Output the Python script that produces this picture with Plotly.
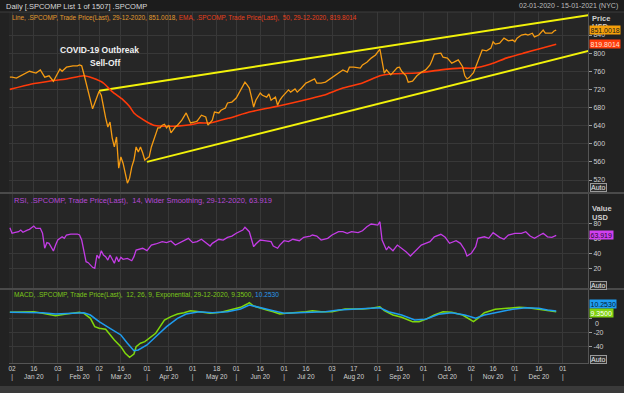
import pandas as pd
import plotly.graph_objects as go
from plotly.subplots import make_subplots

# ---------------- data ----------------
HOLIDAYS = ["2020-01-01", "2020-01-20", "2020-02-17", "2020-04-10", "2020-05-25",
            "2020-07-03", "2020-09-07", "2020-11-26", "2020-12-25"]

# trading session number: 0 = 02-01-2020, -1 = 31-12-2019
price_session = [-1, 0, 2, 5, 8, 11, 13, 15, 17, 19, 21, 22, 23, 25, 28, 30, 31, 32, 33, 34,
                 35, 36, 37, 38, 39, 40, 41, 42, 43, 44, 45, 46, 47, 48, 49, 50, 51, 52, 53, 54,
                 55, 56, 57, 58, 59, 60, 61, 62, 63, 64, 65, 66, 67, 68, 69, 70, 71, 72, 73, 75,
                 76, 78, 79, 80, 81, 82, 84, 85, 87, 89, 90, 92, 93, 95, 96, 98, 99, 101, 103, 105,
                 106, 107, 108, 109, 110, 111, 112, 114, 115, 117, 118, 119, 121, 122, 123, 124, 127, 128, 130, 131,
                 133, 135, 136, 138, 139, 140, 142, 144, 146, 147, 150, 152, 154, 155, 157, 160, 161, 163, 165, 167,
                 169, 170, 171, 172, 174, 177, 178, 179, 181, 182, 184, 186, 188, 190, 192, 193, 194, 197, 198, 200,
                 202, 203, 205, 207, 208, 209, 210, 212, 214, 215, 216, 218, 220, 221, 222, 224, 226, 228, 230, 231,
                 232, 234, 236, 237, 239, 240, 242, 244, 245, 246, 248, 249, 250]
price_value = [747, 747, 745, 752, 760, 756, 763, 747, 750, 738, 756, 765, 760, 769, 772, 772, 774, 772, 754, 734,
               714, 692, 677, 690, 703, 716, 707, 679, 657, 637, 648, 613, 593, 615, 546, 571, 557, 535, 513, 524,
               549, 564, 593, 582, 593, 580, 564, 568, 571, 593, 608, 624, 635, 635, 641, 643, 635, 641, 624, 637,
               641, 652, 659, 668, 657, 646, 648, 650, 663, 659, 641, 652, 670, 668, 674, 679, 690, 692, 701, 719,
               730, 736, 730, 723, 703, 681, 696, 712, 707, 703, 710, 696, 703, 685, 696, 703, 719, 714, 721, 714,
               723, 734, 736, 741, 743, 734, 734, 736, 743, 747, 758, 763, 758, 769, 769, 767, 774, 780, 789, 796,
               809, 778, 756, 763, 752, 768, 769, 760, 750, 736, 738, 750, 758, 763, 774, 785, 798, 800, 791, 789,
               778, 780, 785, 770, 750, 743, 746, 757, 782, 798, 807, 805, 811, 825, 820, 822, 833, 827, 829, 825,
               833, 840, 842, 840, 844, 836, 840, 851, 844, 844, 844, 849, 851.0018]

ema_session = [-1, 9, 17, 25, 33, 37, 42, 46, 51, 54, 56, 59, 62, 65, 69, 76, 82, 86, 91, 100,
               109, 118, 124, 134, 143, 152, 161, 169, 174, 186, 197, 206, 212, 220, 227, 235, 242, 250]
ema_value = [720, 732, 738, 743, 750, 745, 734, 715, 697, 682, 668, 657, 648, 641, 639, 639, 642, 646, 646, 657,
             670, 679, 685, 696, 707, 723, 734, 750, 754, 756, 763, 767, 767, 776, 789, 800, 809, 819.8014]

rsi_session = [-1, 0, 1, 3, 4, 5, 7, 8, 10, 11, 13, 14, 15, 16, 17, 19, 20, 21, 23, 24,
               25, 27, 30, 31, 32, 33, 34, 35, 37, 38, 39, 40, 41, 42, 43, 44, 45, 47, 48, 49,
               50, 51, 53, 55, 56, 57, 60, 62, 64, 66, 69, 71, 73, 75, 77, 79, 81, 83, 85, 87,
               89, 91, 92, 95, 97, 99, 101, 103, 106, 107, 109, 111, 112, 114, 116, 119, 120, 122, 123, 125,
               127, 129, 132, 134, 137, 138, 140, 142, 145, 147, 150, 152, 154, 156, 159, 161, 163, 165, 168, 169,
               170, 172, 173, 175, 177, 179, 181, 183, 185, 188, 190, 192, 194, 197, 199, 201, 204, 206, 208, 209,
               211, 213, 214, 217, 219, 221, 224, 226, 228, 231, 234, 236, 238, 240, 244, 246, 248, 250]
rsi_value = [74.1, 66.7, 67.5, 68.8, 71, 68, 71, 72, 76.4, 73.3, 73.3, 66.7, 46.7, 54.2, 53.3, 43, 51, 57.7, 62, 60,
             64.4, 65.7, 65.7, 64.4, 57.7, 42, 28.8, 27.5, 21.3, 20, 37.7, 33.3, 43.5, 37.7, 35.5, 31, 37.7, 26.7, 35.5, 28.8,
             34.7, 32, 33.3, 30.1, 35.5, 44.4, 46.7, 43.5, 51, 52.4, 55.5, 54.2, 56.4, 51, 54.2, 56.8, 60, 54.2, 55.5, 58.7,
             54.2, 49.7, 53.3, 58.7, 57.7, 61.3, 63, 66.7, 71, 74.7, 68.8, 48.8, 52.4, 57.7, 56.8, 55.5, 49.7, 46.7, 51, 56.8,
             55.5, 58.7, 56.8, 61.3, 63, 64.4, 63, 57.7, 60, 64.4, 68.8, 68.8, 66.7, 68.8, 67.5, 70.1, 75.5, 79, 77.7, 82.1,
             57.7, 44.4, 48.8, 43.5, 51, 46.7, 42.1, 36.4, 42.1, 51, 53.3, 55.5, 62, 65.3, 61.3, 53.3, 56.8, 53.3, 44.4, 36.4,
             40, 48.8, 60, 62, 60, 67.5, 61.3, 58.7, 64.4, 66.7, 66.7, 68.8, 63, 60, 66.7, 62, 61.3, 63.919]

macd_session = [-1, 4, 10, 14, 20, 25, 31, 33, 36, 38, 40, 43, 45, 47, 50, 52, 54, 56, 57, 59,
                61, 63, 66, 68, 70, 73, 76, 79, 82, 86, 91, 96, 100, 105, 108, 109, 111, 114, 117, 120,
                123, 126, 131, 135, 138, 142, 147, 153, 161, 165, 169, 171, 175, 179, 184, 187, 190, 194, 198, 202,
                207, 210, 212, 214, 217, 222, 228, 233, 237, 242, 246, 250]
macd_value = [8.5, 8.5, 9.3, 7, 3.7, 6, 8.5, 7, 0, -11.8, -14, -15.5, -23.5, -30.6, -40, -49.3, -55, -50.3, -40, -35.2,
              -32.9, -28.2, -21.1, -11.8, -2.4, 2.3, 6, 7.9, 10.7, 9.3, 7, 8.5, 11.7, 15.5, 20.1, 22, 17.3, 14.1, 11.7, 9.3,
              6, 7, 7.9, 9.3, 10.7, 9.3, 9.3, 13.1, 13.1, 14.1, 16.3, 10.7, 4.6, 1.4, -4.8, -4.8, -1.4, 4.6, 9.3, 8.5,
              4.6, -1.4, -4.8, 0, 7.9, 12.7, 14.1, 15.5, 14.9, 12.7, 10.7, 9.35]

signal_session = [-1, 8, 14, 20, 27, 33, 36, 40, 45, 50, 53, 56, 58, 62, 66, 71, 76, 80, 86, 92,
                  99, 105, 109, 114, 120, 125, 132, 137, 144, 150, 156, 164, 169, 173, 179, 185, 190, 196, 202, 208,
                  213, 217, 224, 230, 236, 242, 246, 250]
signal_value = [8.5, 8.5, 7.9, 6, 7, 7.9, 4.6, -4.8, -14.1, -23.5, -35.2, -45.6, -44.6, -37.6, -25.9, -11.8, 0, 6, 9.3, 7.9,
                9.3, 13.1, 18.7, 15.5, 10.7, 7, 7.9, 9.3, 9.3, 11.7, 12.7, 13.1, 14.9, 9.3, 4.6, -2.4, -1.4, 5.6, 7.9, 4.6,
                0, 4.6, 9.3, 12.7, 14.9, 14.1, 11.7, 10.253]

trend_upper_dates = ["2020-03-02", "2021-01-19"]
trend_upper_values = [717, 884]
trend_lower_dates = ["2020-04-01", "2021-01-19"]
trend_lower_values = [560, 805]

tick_dates = ["2020-01-02", "2020-01-16", "2020-02-03", "2020-02-18", "2020-03-02", "2020-03-16",
              "2020-04-01", "2020-04-16", "2020-05-01", "2020-05-18", "2020-06-01", "2020-06-16",
              "2020-07-01", "2020-07-16", "2020-08-03", "2020-08-17", "2020-09-01", "2020-09-16",
              "2020-10-01", "2020-10-16", "2020-11-02", "2020-11-16", "2020-12-01", "2020-12-16",
              "2021-01-01"]
tick_days = ["02", "16", "03", "18", "02", "16", "01", "16", "01", "18", "01", "16", "01", "16",
             "03", "17", "01", "16", "01", "16", "02", "16", "01", "16", "01"]
tick_months = ["|", "Jan 20", "|", "Feb 20", "|", "Mar 20", "|", "Apr 20", "|", "May 20", "|", "Jun 20",
               "|", "Jul 20", "|", "Aug 20", "|", "Sep 20", "|", "Oct 20", "|", "Nov 20", "|", "Dec 20", "|"]

price_ticks = [520, 560, 600, 640, 680, 720, 760, 800, 840]
rsi_ticks = [20, 40, 60, 80]
rsi_bands = [70, 20]
macd_ticks = [-40, -20, 0]
macd_ticktext = ["-40", "-20", ""]   # the "0" label is pushed below the value flags

# ---------------- build ----------------
calendar = pd.bdate_range("2019-12-31", "2021-03-31", freq="C", holidays=HOLIDAYS)


def to_dates(sessions):
    return [calendar[s + 1] for s in sessions]


FONT = "Liberation Sans"
BG = "#262626"
GRID = "#383838"
TXT = "#cfcfcf"
ORANGE = "#f59b12"
RED = "#ff3a0a"
YELLOW = "#f2f20a"
MAGENTA = "#c43ce6"
GREEN = "#80d80c"
BLUE = "#1e9cf0"

fig = make_subplots(rows=3, cols=1, shared_xaxes=True, vertical_spacing=0,
                    row_heights=[181, 96, 74])

fig.add_trace(go.Scatter(x=trend_upper_dates, y=trend_upper_values, mode="lines",
                         line=dict(color=YELLOW, width=2)), row=1, col=1)
fig.add_trace(go.Scatter(x=trend_lower_dates, y=trend_lower_values, mode="lines",
                         line=dict(color=YELLOW, width=2)), row=1, col=1)
fig.add_trace(go.Scatter(x=to_dates(ema_session), y=ema_value, mode="lines",
                         line=dict(color=RED, width=1.6, shape="spline", smoothing=0.6)), row=1, col=1)
fig.add_trace(go.Scatter(x=to_dates(price_session), y=price_value, mode="lines",
                         line=dict(color=ORANGE, width=1.3)), row=1, col=1)

for b in rsi_bands:
    fig.add_hline(y=b, line=dict(color="#a02cc0", width=1.5), row=2, col=1)
fig.add_trace(go.Scatter(x=to_dates(rsi_session), y=rsi_value, mode="lines",
                         line=dict(color=MAGENTA, width=1.3)), row=2, col=1)

fig.add_hline(y=0, line=dict(color="#5c9c10", width=1), row=3, col=1)
fig.add_trace(go.Scatter(x=to_dates(macd_session), y=macd_value, mode="lines",
                         line=dict(color=GREEN, width=1.5)), row=3, col=1)
fig.add_trace(go.Scatter(x=to_dates(signal_session), y=signal_value, mode="lines",
                         line=dict(color=BLUE, width=1.5)), row=3, col=1)

fig.update_xaxes(
    range=["2019-12-30 14:24", "2021-01-18 14:24"],
    rangebreaks=[dict(bounds=["sat", "mon"]), dict(values=HOLIDAYS)],
    tickmode="array", tickvals=tick_dates,
    ticktext=[d + "<br>" + m for d, m in zip(tick_days, tick_months)],
    showgrid=True, gridcolor=GRID, gridwidth=1, zeroline=False,
    tickfont=dict(family=FONT, size=6.5, color=TXT), ticks="",
    showline=False, automargin=False, ticklabelstandoff=-1,
)
fig.update_xaxes(showline=True, linecolor="#555555", row=3, col=1)

yax_common = dict(side="right", showgrid=True, gridcolor=GRID, zeroline=False,
                  ticks="outside", ticklen=3, tickcolor="#9a9a9a",
                  tickfont=dict(family=FONT, size=7, color=TXT),
                  showline=True, linecolor="#555555", linewidth=1, automargin=False)
fig.update_yaxes(range=[491.3, 890.8], tickvals=price_ticks, row=1, col=1, **yax_common)
fig.update_yaxes(range=[-7.6, 120.4], tickvals=rsi_ticks, row=2, col=1, **yax_common)
fig.update_yaxes(range=[-63, 41.3], tickvals=macd_ticks, ticktext=macd_ticktext, row=3, col=1, **yax_common)

H = 351.0  # plot height in px


def py(px):
    return (363 - px) / H


def px_x(px):
    return (px - 9) / 579.0


ann = []


def text(x, y, s, color=TXT, size=7, xanchor="left", bold=False, **kw):
    if bold:
        s = "<b>" + s + "</b>"
    ann.append(dict(x=x, y=y, xref="paper", yref="paper", text=s, showarrow=False,
                    xanchor=xanchor, yanchor="middle",
                    font=dict(family=FONT, size=size, color=color), **kw))


# title bar
text(px_x(4), py(6), "Daily [.SPCOMP List 1 of 1507] .SPCOMP", color="#d9d9d9", size=7.5)
text(px_x(620), py(6), "02-01-2020 - 15-01-2021 (NYC)", color="#bdbdbd", size=7, xanchor="right")

# legends
text(px_x(10), py(18),
     "<span style='color:%s'>Line, .SPCOMP, Trade Price(Last), 29-12-2020, 851.0018, </span>"
     "<span style='color:%s'>EMA, .SPCOMP, Trade Price(Last),  50, 29-12-2020, 819.8014</span>" % ("#e29a2e", "#e8401c"),
     size=6.4)
text(px_x(12), py(200), "RSI, .SPCOMP, Trade Price(Last),  14, Wider Smoothing, 29-12-2020, 63.919",
     color="#b648d8", size=7.5)
text(px_x(12), py(295),
     "<span style='color:%s'>MACD, .SPCOMP, Trade Price(Last),  12, 26, 9, Exponential, 29-12-2020, 9.3500, </span>"
     "<span style='color:%s'>10.2530</span>" % ("#7cc61a", "#2a9ae8"), size=6.6)

# callouts
text(px_x(99), py(50), "COVID-19 Outbreak", color="#f0f0f0", size=8.5, xanchor="center", bold=True)
text(px_x(105), py(63), "Sell-Off", color="#f0f0f0", size=8.5, xanchor="center", bold=True)

# axis titles
text(px_x(590), py(18), "Price", color="#d0d0d0", size=7.5, bold=True)
text(px_x(590), py(26), "USD", color="#d0d0d0", size=7.5, bold=True)
text(px_x(590), py(208), "Value", color="#d0d0d0", size=7.5, bold=True)
text(px_x(590), py(217), "USD", color="#d0d0d0", size=7.5, bold=True)
text(px_x(593), py(323), "0", color=TXT, size=7)

# auto boxes
for yy in (188, 285, 359):
    text(px_x(590), py(yy), "Auto", color="#e8e8e8", size=7, bgcolor="#2e2e2e",
         bordercolor="#9a9a9a", borderwidth=1, borderpad=0)


# value flags
def flag(yref, yval, s, bg, fg, yshift=0):
    ann.append(dict(x=1.0, y=yval, xref="paper", yref=yref, text=s, showarrow=False,
                    xanchor="left", yanchor="middle", xshift=1, yshift=yshift,
                    font=dict(family=FONT, size=7, color=fg), bgcolor=bg, borderpad=0.5))


flag("y", price_value[-1], "851.0018", "#f5a00a", "#1a1a1a")
flag("y", ema_value[-1], "819.8014", "#ff3c0a", "#ffe0d8")
flag("y2", rsi_value[-1], "63.919", "#d040f0", "#2a0a30")
flag("y3", signal_value[-1], "10.2530", "#1e9cf0", "#082030", yshift=7)
flag("y3", macd_value[-1], "9.3500", "#7fd210", "#ffffff", yshift=-1)

# panel separators and bars
shapes = [
    dict(type="rect", xref="paper", yref="paper", x0=-0.02, x1=1.07, y0=1.0, y1=1.04,
         fillcolor="#1c1c1c", line=dict(width=0), layer="below"),
    dict(type="line", xref="paper", yref="paper", x0=-0.02, x1=1.07, y0=py(193), y1=py(193),
         line=dict(color="#4a4a4a", width=2)),
    dict(type="line", xref="paper", yref="paper", x0=-0.02, x1=1.07, y0=py(289), y1=py(289),
         line=dict(color="#4a4a4a", width=2)),
    dict(type="line", xref="paper", yref="paper", x0=-0.02, x1=1.07, y0=py(12), y1=py(12),
         line=dict(color="#3c3c3c", width=1)),
    dict(type="rect", xref="paper", yref="paper", x0=-0.02, x1=1.07, y0=py(393), y1=py(386),
         fillcolor="#3a3a3a", line=dict(width=0), layer="below"),
]

fig.update_layout(
    width=624, height=393,
    margin=dict(l=9, r=36, t=12, b=30),
    paper_bgcolor="#222222", plot_bgcolor=BG,
    showlegend=False,
    annotations=ann, shapes=list(fig.layout.shapes) + shapes,
    font=dict(family=FONT, color=TXT),
)

fig.write_html("out.html", config={"displayModeBar": False},
               post_script="document.body.style.margin='0px';")
